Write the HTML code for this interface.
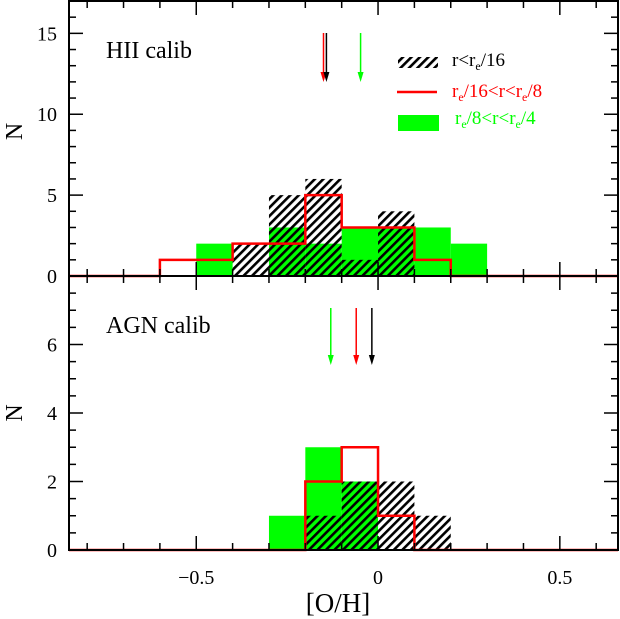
<!DOCTYPE html>
<html><head><meta charset="utf-8"><style>
html,body{margin:0;padding:0;background:#fff;}
svg{display:block;font-family:"Liberation Serif",serif;}
</style></head><body>
<svg id="chart" width="620" height="619" viewBox="0 0 620 619" xmlns="http://www.w3.org/2000/svg" style="position:absolute;left:0;top:0">
<defs>
<pattern id="hatch" patternUnits="userSpaceOnUse" width="6" height="6" patternTransform="rotate(45)">
<rect x="0" y="0" width="2.6" height="6" fill="#000"/>
</pattern>
</defs>
<g id="plot"></g>
</svg>
<script>
// bin left edges (width 0.1)
const binEdges = [-0.6,-0.5,-0.4,-0.3,-0.2,-0.1,0.0,0.1,0.2];
// Top panel (HII calib)
const hiiBlack = [0,0,2,5,6,1,4,0,0];
const hiiRed   = [1,1,2,2,5,3,3,1,0];
const hiiGreen = [0,2,0,3,2,3,3,3,2];
const hiiArrows = [{x:-0.15,c:'#ff0000',n:'red'},{x:-0.142,c:'#000000',n:'black'},{x:-0.048,c:'#00ff00',n:'green'}];
// Bottom panel (AGN calib)
const agnBlack = [0,0,0,0,1,2,2,1,0];
const agnRed   = [0,0,0,0,2,3,1,0,0];
const agnGreen = [0,0,0,1,3,2,0,0,0];
const agnArrows = [{x:-0.13,c:'#00ff00',n:'green'},{x:-0.06,c:'#ff0000',n:'red'},{x:-0.017,c:'#000000',n:'black'}];
const xTicks = [-0.5,0,0.5];
const xTickLabels = ['\u22120.5','0','0.5'];
const topYTicks = [0,5,10,15];
const botYTicks = [0,2,4,6];

const NS='http://www.w3.org/2000/svg';
const g=document.getElementById('plot');
const X0=69,X1=618,XMIN=-0.85,XMAX=0.66;
const sx=v=>X0+(v-XMIN)/(XMAX-XMIN)*(X1-X0);
const panels=[
 {top:1,bot:276,ymax:17,black:hiiBlack,red:hiiRed,green:hiiGreen,arrows:hiiArrows,ticks:topYTicks,minor:1,title:'HII calib',name:'hii',ay0:33,ay1:82},
 {top:276,bot:550,ymax:8,black:agnBlack,red:agnRed,green:agnGreen,arrows:agnArrows,ticks:botYTicks,minor:0.5,title:'AGN calib',name:'agn',ay0:308,ay1:365}
];
function mk(tag,attrs,parent){const e=document.createElementNS(NS,tag);for(const k in attrs)e.setAttribute(k,attrs[k]);(parent||g).appendChild(e);return e;}
panels.forEach(p=>{
 const sy=v=>p.bot-v/p.ymax*(p.bot-p.top);
 const pg=mk('g',{});
 
 
 p.green.forEach((v,i)=>{ if(!v) return;
  const r=mk('rect',{x:sx(binEdges[i]),y:sy(v),width:sx(binEdges[i]+0.1)-sx(binEdges[i]),height:sy(0)-sy(v),fill:'#00ff00'},pg);
  
  
 });
 p.black.forEach((v,i)=>{ if(!v) return;
  const r=mk('rect',{x:sx(binEdges[i]),y:sy(v),width:sx(binEdges[i]+0.1)-sx(binEdges[i]),height:sy(0)-sy(v),fill:'url(#hatch)'},pg);
  
  
 });
 let d='M'+X0+','+sy(0)+' L'+sx(binEdges[0])+','+sy(0);
 p.red.forEach((v,i)=>{d+=' L'+sx(binEdges[i])+','+sy(v)+' L'+sx(binEdges[i]+0.1)+','+sy(v);});
 d+=' L'+sx(binEdges[binEdges.length-1]+0.1)+','+sy(0)+' L'+X1+','+sy(0);
 const rp=mk('path',{d:d,fill:'none',stroke:'#ff0000','stroke-width':2.5},pg);
 
 
 p.arrows.forEach(a=>{
  const x=sx(a.x);
  const ag=mk('g',{},pg);
  
  
  mk('line',{x1:x,y1:p.ay0,x2:x,y2:p.ay1-6,stroke:a.c,'stroke-width':1.5},ag);
  mk('path',{d:`M${x-3},${p.ay1-10} L${x},${p.ay1} L${x+3},${p.ay1-10} Z`,fill:a.c},ag);
 });
 const fr=mk('rect',{x:X0,y:p.top,width:X1-X0,height:p.bot-p.top,fill:'none',stroke:'#000','stroke-width':2},pg);
 
 
 for(let v=0;v<=p.ymax+1e-9;v+=p.minor){
  const maj=p.ticks.some(t=>Math.abs(t-v)<1e-9);
  const L=maj?14:7;
  mk('line',{x1:X0,y1:sy(v),x2:X0+L,y2:sy(v),stroke:'#000','stroke-width':1.5},pg);
  mk('line',{x1:X1,y1:sy(v),x2:X1-L,y2:sy(v),stroke:'#000','stroke-width':1.5},pg);
 }
 p.ticks.forEach(t=>{
  const tx=mk('text',{x:X0-12,y:sy(t)+7,'text-anchor':'end','font-size':20},pg);
  tx.textContent=t;
  
  
 });
 for(let k=-8;k<=6;k++){
  const v=k/10; const x=sx(v);
  const maj=(k%5===0);
  const L=maj?14:7;
  mk('line',{x1:x,y1:p.bot,x2:x,y2:p.bot-L,stroke:'#000','stroke-width':1.5},pg);
  mk('line',{x1:x,y1:p.top,x2:x,y2:p.top+L,stroke:'#000','stroke-width':1.5},pg);
 }
 const tt=mk('text',{x:106,y:p.top+57,'font-size':24},pg);
 tt.textContent=p.title;
 
 
 const yl=mk('text',{x:0,y:0,'font-size':24,'text-anchor':'middle',transform:`translate(22,${(p.top+p.bot)/2+(p.name==='hii'?-7:0)}) rotate(-90)`},pg);
 yl.textContent='N';
 
 
});
xTicks.forEach((t,i)=>{
 const tx=mk('text',{x:sx(t),y:584,'text-anchor':'middle','font-size':20});
 tx.textContent=xTickLabels[i];
 
 
});
const xl=mk('text',{x:338,y:612,'text-anchor':'middle','font-size':27});
xl.textContent='[O/H]';


</script>
<svg style="position:absolute;left:0;top:0" width="620" height="619">
<defs><pattern id="hatch2" patternUnits="userSpaceOnUse" width="6" height="6" patternTransform="rotate(45)"><rect x="0" y="0" width="2.6" height="6" fill="#000"/></pattern></defs>
<rect x="398" y="57" width="40" height="11" fill="url(#hatch2)"/>
<text x="452" y="66" font-family="Liberation Serif,serif" font-size="19" fill="#000">r&lt;r<tspan font-size="12" dy="4">e</tspan><tspan dy="-4">/16</tspan></text>
<line x1="397" y1="92" x2="437" y2="92" stroke="#ff0000" stroke-width="2.5"/>
<text x="452" y="97" font-family="Liberation Serif,serif" font-size="19" fill="#ff0000">r<tspan font-size="12" dy="4">e</tspan><tspan dy="-4">/16&lt;r&lt;r</tspan><tspan font-size="12" dy="4">e</tspan><tspan dy="-4">/8</tspan></text>
<rect x="398" y="115" width="41" height="16" fill="#00ff00"/>
<text x="455" y="124" font-family="Liberation Serif,serif" font-size="19" fill="#00ff00">r<tspan font-size="12" dy="4">e</tspan><tspan dy="-4">/8&lt;r&lt;r</tspan><tspan font-size="12" dy="4">e</tspan><tspan dy="-4">/4</tspan></text>
</svg>
</body></html>
